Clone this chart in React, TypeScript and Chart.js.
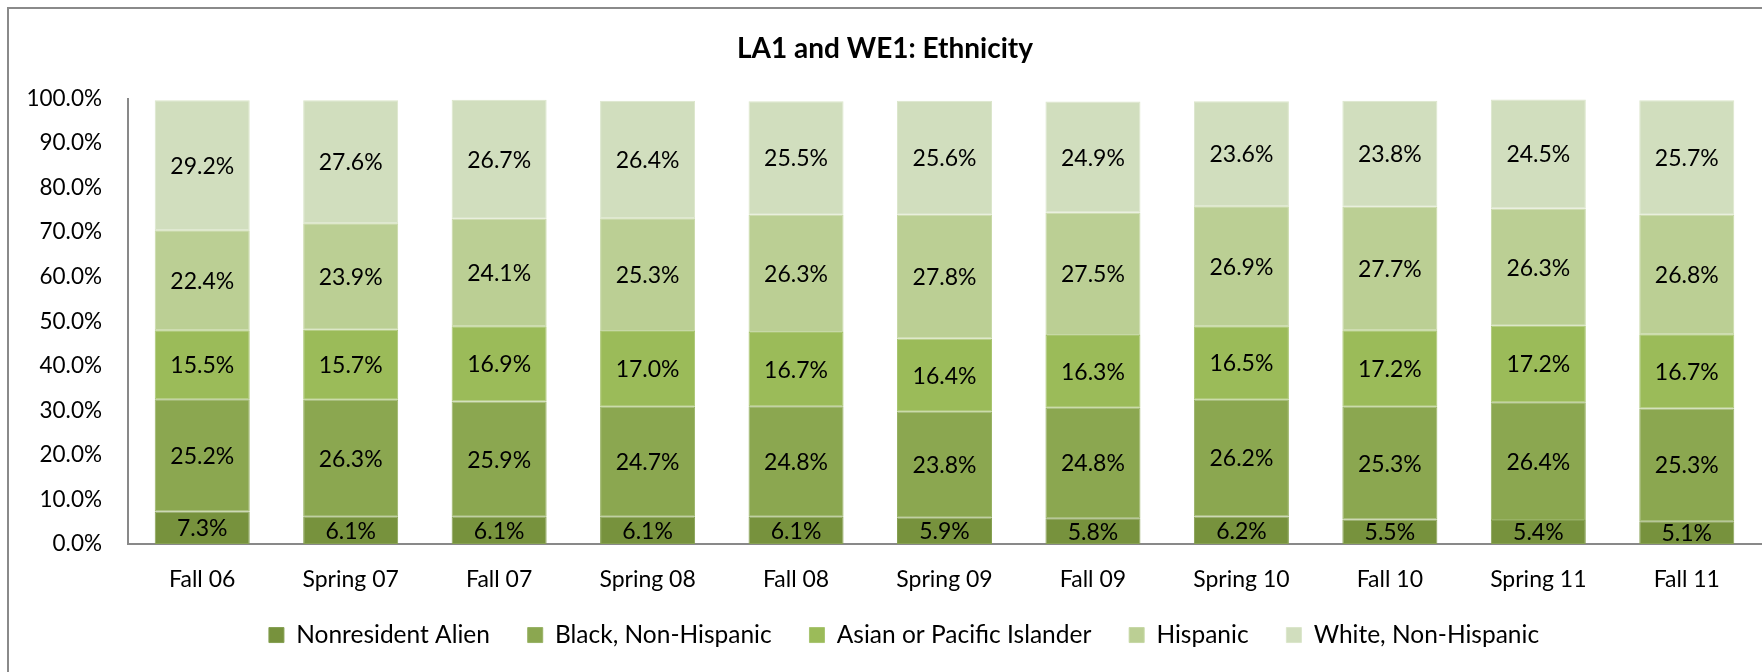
import React, { useEffect, useRef } from "react";
import { Chart, registerables } from "chart.js";

Chart.register(...registerables);

const categories = [
  "Fall 06", "Spring 07", "Fall 07", "Spring 08", "Fall 08", "Spring 09",
  "Fall 09", "Spring 10", "Fall 10", "Spring 11", "Fall 11",
];

const seriesNames = [
  "Nonresident Alien",
  "Black, Non-Hispanic",
  "Asian or Pacific Islander",
  "Hispanic",
  "White, Non-Hispanic",
];

const nonresidentAlien = [7.3, 6.1, 6.1, 6.1, 6.1, 5.9, 5.8, 6.2, 5.5, 5.4, 5.1];
const blackNonHispanic = [25.2, 26.3, 25.9, 24.7, 24.8, 23.8, 24.8, 26.2, 25.3, 26.4, 25.3];
const asianPacific = [15.5, 15.7, 16.9, 17.0, 16.7, 16.4, 16.3, 16.5, 17.2, 17.2, 16.7];
const hispanic = [22.4, 23.9, 24.1, 25.3, 26.3, 27.8, 27.5, 26.9, 27.7, 26.3, 26.8];
const whiteNonHispanic = [29.2, 27.6, 26.7, 26.4, 25.5, 25.6, 24.9, 23.6, 23.8, 24.5, 25.7];

const seriesValues = [nonresidentAlien, blackNonHispanic, asianPacific, hispanic, whiteNonHispanic];

const fillColors = ["#77923D", "#8BA750", "#9BBB59", "#BBCF94", "#D1DEBE"];
const edgeColors = ["#86a052", "#98b265", "#a9c571", "#c7d8a6", "#dbe6cb"];

const yMin = 0;
const yMax = 100;
const yStep = 10;

const FONT = "Lato";
const LEGEND_SHIFT_X = 19;
const LEGEND_SHIFT_Y = -29;

const valueLabels = {
  id: "valueLabels",
  afterDatasetsDraw(chart: any) {
    const ctx = chart.ctx;
    ctx.save();
    ctx.font = `23px ${FONT}`;
    ctx.fillStyle = "#000";
    ctx.textAlign = "center";
    ctx.textBaseline = "middle";
    chart.data.datasets.forEach((ds: any, i: number) => {
      const meta = chart.getDatasetMeta(i);
      meta.data.forEach((el: any, j: number) => {
        const v = ds.data[j] as number;
        const { x, y, base } = el.getProps(["x", "y", "base"], true);
        ctx.fillText(v.toFixed(1) + "%", x, (y + base) / 2 + 1);
      });
    });
    ctx.restore();
  },
};

const legendShift = {
  id: "legendShift",
  afterLayout(chart: any) {
    const lg = chart.legend;
    if (!lg) return;
    lg.left += LEGEND_SHIFT_X;
    lg.right += LEGEND_SHIFT_X;
    lg.top += LEGEND_SHIFT_Y;
    lg.bottom += LEGEND_SHIFT_Y;
  },
};

export default function App() {
  const ref = useRef<HTMLCanvasElement | null>(null);

  useEffect(() => {
    if (!ref.current) return;
    Chart.defaults.color = "#000";
    const chart = new Chart(ref.current, {
      type: "bar",
      data: {
        labels: categories,
        datasets: seriesNames.map((name, i) => ({
          label: name,
          data: seriesValues[i],
          backgroundColor: fillColors[i],
          borderColor: edgeColors[i],
          borderWidth: 1,
          borderSkipped: false,
          categoryPercentage: 1,
          barPercentage: 0.64,
        })),
      },
      options: {
        animation: false,
        responsive: false,
        layout: { padding: { top: 0, left: 0, right: 22, bottom: 22.7 } },
        plugins: {
          title: {
            display: true,
            text: "LA1 and WE1: Ethnicity",
            color: "#000",
            font: { family: FONT, size: 28, weight: "bold" },
            padding: { top: 23.2, bottom: 32.7 },
          },
          legend: {
            display: true,
            position: "bottom",
            labels: {
              font: { family: FONT, size: 24.5 },
              color: "#000",
              boxWidth: 15,
              boxHeight: 15,
              padding: 37.8,
            },
          },
          tooltip: { enabled: false },
        },
        scales: {
          x: {
            stacked: true,
            grid: { display: false, drawTicks: false },
            border: { display: true, color: "#898989", width: 2 },
            ticks: { font: { family: FONT, size: 23 }, color: "#000", padding: 22, maxRotation: 0 },
            afterFit: (s: any) => { s.height = 70; },
          },
          y: {
            stacked: true,
            min: yMin,
            max: yMax,
            grid: { display: false, drawTicks: false },
            border: { display: true, color: "#898989", width: 2 },
            ticks: {
              stepSize: yStep,
              font: { family: FONT, size: 22.5 },
              color: "#000",
              padding: 26,
              callback: (v: any) => Number(v).toFixed(1) + "%",
            },
            afterFit: (s: any) => { s.width = 119; },
          },
        },
      },
      plugins: [valueLabels, legendShift],
    });
    return () => chart.destroy();
  }, []);

  return (
    <div style={{ position: "fixed", left: 0, top: 0, width: 1762, height: 672, overflow: "hidden", background: "#fff" }}>
      <div
        style={{
          position: "absolute",
          left: 7,
          top: 7,
          width: 1774,
          height: 700,
          border: "2px solid #8a8a8a",
          background: "#fff",
        }}
      >
        <canvas ref={ref} width={1774} height={700} style={{ display: "block" }} />
      </div>
    </div>
  );
}
